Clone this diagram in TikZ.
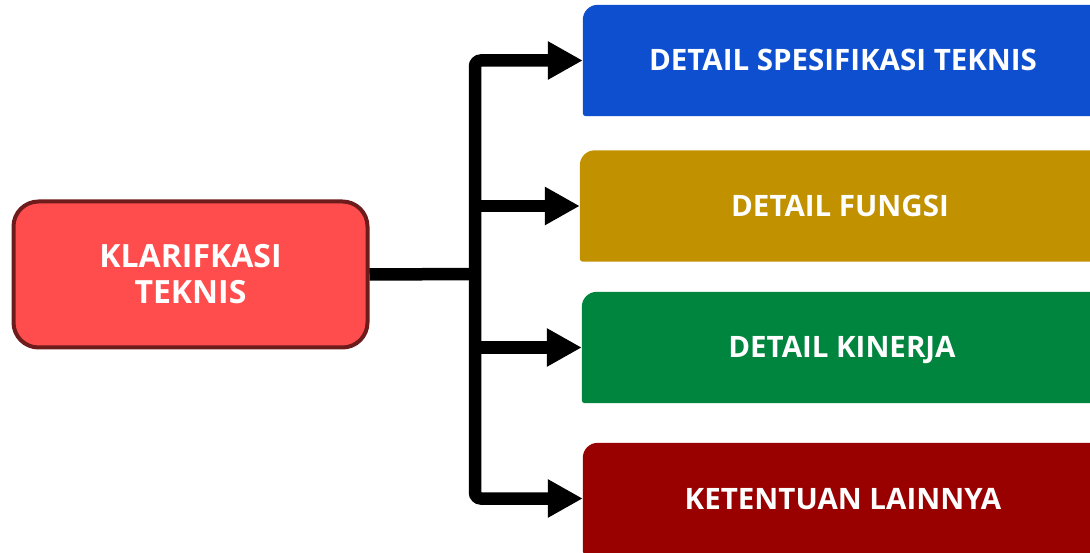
\documentclass[tikz,border=0pt]{standalone}
\usepackage{fontspec}
\setmainfont{Open Sans}
\usetikzlibrary{arrows.meta,backgrounds}
\definecolor{cblue}{HTML}{0E4FD0}
\definecolor{cgold}{HTML}{C19100}
\definecolor{cgreen}{HTML}{00853F}
\definecolor{cred}{HTML}{990000}
\definecolor{mainfill}{HTML}{FF4D4D}
\definecolor{mainline}{HTML}{6E1B1B}
\tikzset{
  mainbox/.style={rectangle, rounded corners=25pt, draw=mainline, line width=4pt, fill=mainfill,
    minimum width=354pt, minimum height=146pt, text=white, align=center,
    font=\fontsize{32}{36}\selectfont\bfseries},
  rbox/.style={rectangle, minimum width=520pt, minimum height=111pt, inner sep=0pt,
    text height=21pt, text depth=0pt,
    text=white, font=\fontsize{29.5}{33}\selectfont\bfseries},
  conn/.style={line width=12.5pt, draw=black},
  arr/.style={conn, rounded corners=6pt, -{Triangle[length=35pt,width=36pt]}}
}
\newcommand{\rback}[2]{%
  \fill[#2] ([yshift=3pt]#1.south west) -- ([yshift=-15pt]#1.north west)
    arc[start angle=180, end angle=90, radius=15pt] -- (#1.north east) -- (#1.south east)
    -- ([xshift=3pt]#1.south west) arc[start angle=270, end angle=180, radius=3pt] -- cycle;}
\begin{document}
\begin{tikzpicture}[x=1pt,y=-1pt]
\useasboundingbox (0,0) rectangle (1090,553);
\clip (0,0) rectangle (1090,553);
\node[mainbox] (main) at (190.5,274.5) {KLARIFKASI\\TEKNIS};
\node[rbox] (b1) at (843,60.5) {DETAIL SPESIFIKASI TEKNIS};
\node[rbox] (b2) at (840,206) {DETAIL FUNGSI};
\node[rbox] (b3) at (842,347.5) {DETAIL KINERJA};
\node[rbox] (b4) at (843,498.5) {KETENTUAN LAINNYA};
\begin{scope}[on background layer]
\rback{b1}{cblue}
\rback{b2}{cgold}
\rback{b3}{cgreen}
\rback{b4}{cred}
\end{scope}
\coordinate (j) at (475,274);
\draw[conn] (main.east) -- (j);
\draw[arr] (j) |- (b1.west);
\draw[arr] (j) |- (b4.west);
\draw[arr] (j |- b2.west) -- (b2.west);
\draw[arr] (j |- b3.west) -- (b3.west);
\end{tikzpicture}
\end{document}
